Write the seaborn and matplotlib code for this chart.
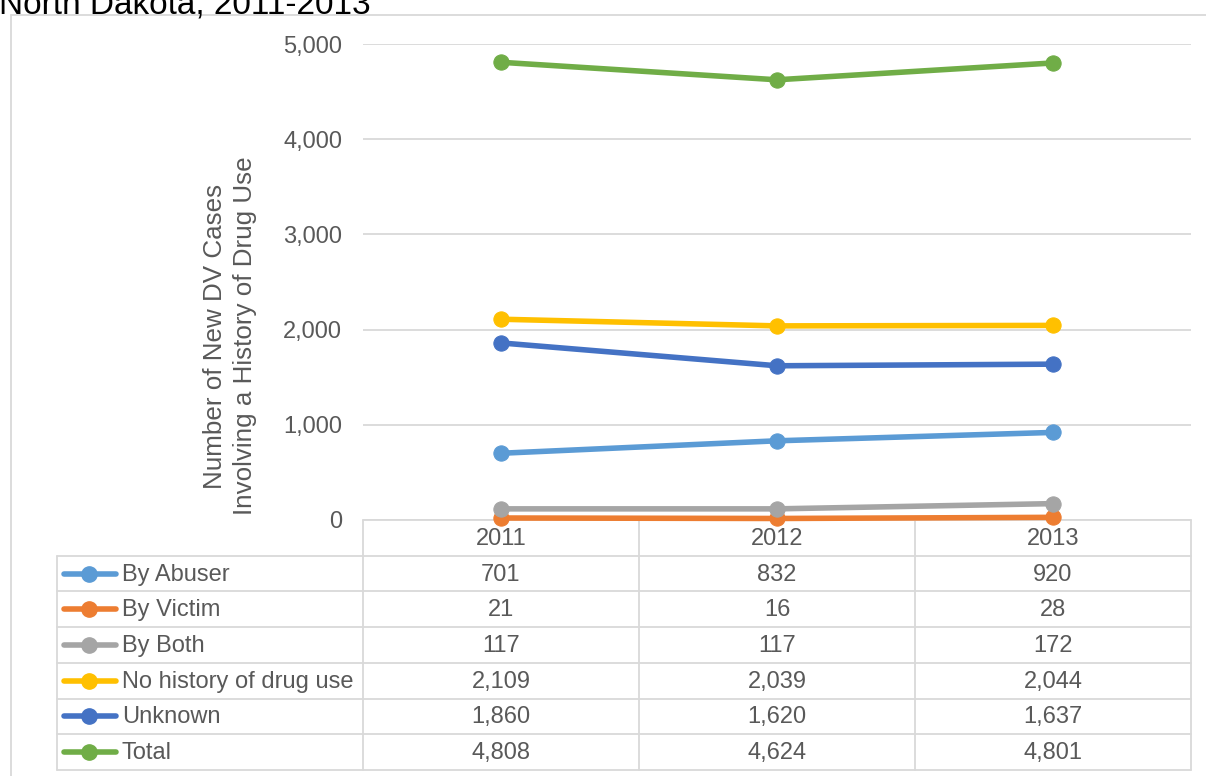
import pandas as pd
import seaborn as sns
import matplotlib.pyplot as plt
from matplotlib.ticker import StrMethodFormatter

sns.set_style("white")
plt.rcParams['font.family'] = ['Liberation Sans', 'DejaVu Sans']

years = ["2011", "2012", "2013"]
series_names = ["By Abuser", "By Victim", "By Both",
                "No history of drug use", "Unknown", "Total"]
by_abuser = [701, 832, 920]
by_victim = [21, 16, 28]
by_both = [117, 117, 172]
no_history = [2109, 2039, 2044]
unknown = [1860, 1620, 1637]
total = [4808, 4624, 4801]
colors = ["#5B9BD5", "#ED7D31", "#A5A5A5", "#FFC000", "#4472C4", "#70AD47"]

values = [by_abuser, by_victim, by_both, no_history, unknown, total]
rows = []
for name, vals in zip(series_names, values):
    for y, v in zip(years, vals):
        rows.append({"Year": y, "Cases": v, "Series": name})
df = pd.DataFrame(rows)
palette = dict(zip(series_names, colors))

W, H = 1206, 776
txt = "#595959"
grid_c = "#D9D9D9"
fs = 17
lw = 4
ms = 11


def fx(px):
    return px / W


def fy(py):
    return 1 - py / H


fig = plt.figure(figsize=(W / 100, H / 100), dpi=100)

# overlay axes in pixel coords for frame, table and title
ov = fig.add_axes([0, 0, 1, 1], zorder=0)
ov.set_xlim(0, W)
ov.set_ylim(H, 0)
ov.axis("off")

ax_l, ax_r, ax_t, ax_b = 363, 1191, 44, 520
ax = fig.add_axes([fx(ax_l), fy(ax_b), fx(ax_r) - fx(ax_l), fy(ax_t) - fy(ax_b)], zorder=1)
ax.patch.set_visible(False)

sns.lineplot(data=df, x="Year", y="Cases", hue="Series", palette=palette,
             hue_order=series_names, marker="o", markersize=ms, linewidth=lw,
             sort=False, legend=False, ax=ax)
for ln in ax.lines:
    ln.set_markeredgecolor(ln.get_color())
    ln.set_clip_on(False)
    ln.set_solid_capstyle("round")

ax.set_xlim(-0.5, 2.5)
ax.set_ylim(0, 5000)
ax.set_yticks(range(0, 5001, 1000))
ax.yaxis.set_major_formatter(StrMethodFormatter("{x:,.0f}"))
ax.set_xticks([])
ax.set_xlabel("")
ax.set_ylabel("")
ax.yaxis.grid(True, color=grid_c, lw=1.3)
ax.set_axisbelow(True)
for s in ax.spines.values():
    s.set_visible(False)
ax.tick_params(axis="y", length=0, pad=15, labelsize=fs, labelcolor=txt)

fig.text(fx(230), fy(336), "Number of New DV Cases\nInvolving a History of Drug Use",
         rotation=90, ha="center", va="center", multialignment="center",
         fontsize=18.7, color=txt, linespacing=1.3)

# outer frame (left and top edges)
ov.plot([11, 11], [15, H], color=grid_c, lw=1.3)
ov.plot([11, W], [15, 15], color=grid_c, lw=1.3)

fig.text(fx(-1), fy(13), "North Dakota, 2011-2013", fontsize=24,
         color="#000000", va="baseline", ha="left")

# data table below the plot
leg_l = 57
row_h = 35.7
n_rows = len(series_names) + 1
tab_b = ax_b + n_rows * row_h
col_w = (ax_r - ax_l) / len(years)
col_edges = [ax_l + j * col_w for j in range(len(years) + 1)]

ov.plot([ax_l, ax_r], [ax_b, ax_b], color=grid_c, lw=1.3)
for k in range(1, n_rows + 1):
    yk = ax_b + k * row_h
    ov.plot([leg_l, ax_r], [yk, yk], color=grid_c, lw=1.3)
ov.plot([leg_l, leg_l], [ax_b + row_h, tab_b], color=grid_c, lw=1.3)
for xe in col_edges:
    ov.plot([xe, xe], [ax_b, tab_b], color=grid_c, lw=1.3)

for j, y in enumerate(years):
    ov.text(col_edges[j] + col_w / 2, ax_b + row_h / 2 + 1, y, ha="center",
            va="center", fontsize=fs, color=txt)

for i, (name, vals, c) in enumerate(zip(series_names, values, colors)):
    yc = ax_b + (i + 1.5) * row_h + 1
    ov.plot([64, 116], [yc - 1, yc - 1], color=c, lw=lw, solid_capstyle="round")
    ov.plot([89], [yc - 1], marker="o", markersize=ms, color=c, mec=c)
    ov.text(122, yc, name, ha="left", va="center", fontsize=fs, color=txt)
    for j, v in enumerate(vals):
        ov.text(col_edges[j] + col_w / 2, yc, f"{v:,}", ha="center",
                va="center", fontsize=fs, color=txt)

fig.savefig("out.png", dpi=100)
